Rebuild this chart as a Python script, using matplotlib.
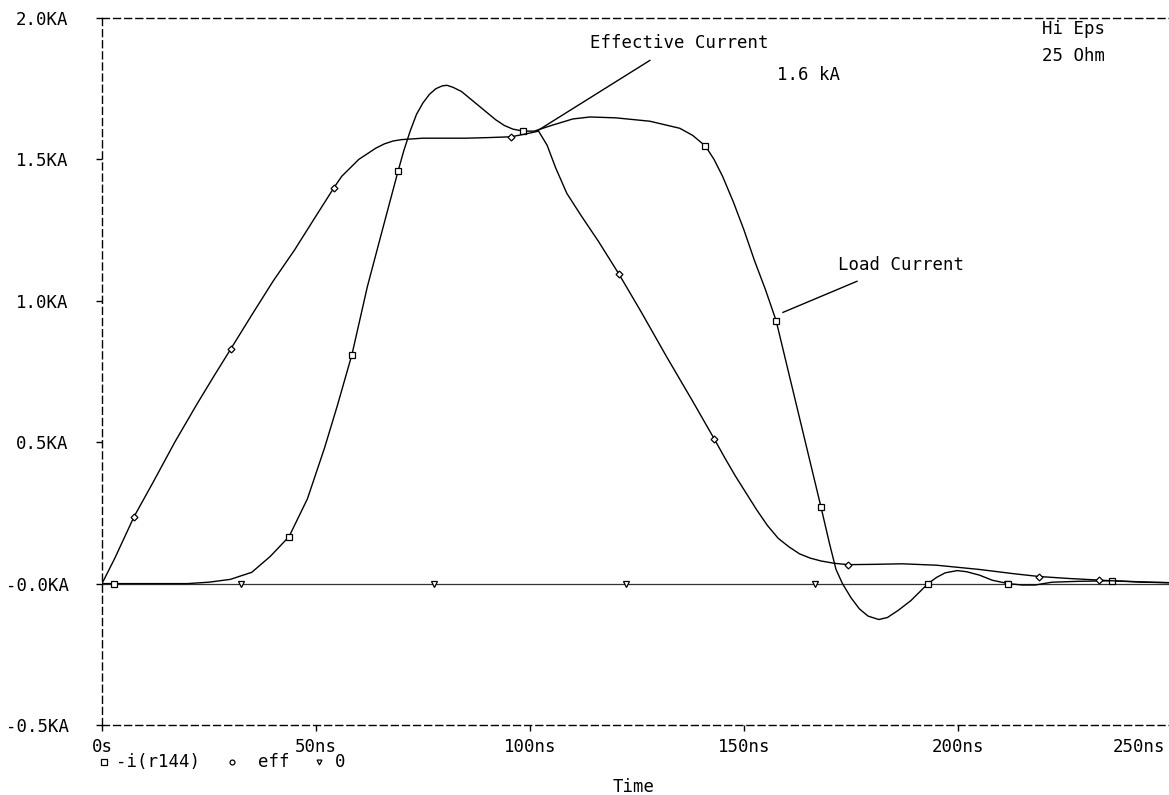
import numpy as np
import matplotlib.pyplot as plt
from matplotlib.lines import Line2D

# Load current -i(r144), time in ns, current in kA
load_t = [0, 10, 20, 25, 30, 35, 39.3, 43.7, 48, 52, 55, 58.4, 62, 65.5, 69.2,
          70.5, 72, 73.5, 75, 76.5, 78, 79.5, 80.6, 82, 84, 86, 88, 90, 92, 94,
          96, 98.4, 101, 105, 110, 114, 120, 128, 135, 138, 141, 143, 145, 147.5,
          150, 152.5, 155, 157.5, 161, 164.5, 168, 170, 171.5, 173, 175, 177,
          179, 181.5, 183.5, 186, 189, 191, 193, 195, 197, 199.8, 202, 205, 208,
          211.7, 215, 218, 222, 228, 236, 243, 250]
load_i = [0, 0, 0, 0.005, 0.015, 0.04, 0.096, 0.166, 0.3, 0.48, 0.63, 0.81, 1.05,
          1.25, 1.46, 1.53, 1.6, 1.66, 1.70, 1.73, 1.75, 1.76, 1.762, 1.755, 1.74,
          1.715, 1.69, 1.665, 1.64, 1.62, 1.607, 1.60, 1.60, 1.62, 1.643, 1.65,
          1.647, 1.635, 1.61, 1.585, 1.547, 1.50, 1.44, 1.35, 1.25, 1.14, 1.04,
          0.93, 0.71, 0.49, 0.27, 0.14, 0.05, 0, -0.05, -0.09, -0.115, -0.127,
          -0.12, -0.095, -0.06, -0.03, 0, 0.022, 0.038, 0.046, 0.042, 0.03, 0.012,
          0, -0.005, -0.005, 0.005, 0.008, 0.01, 0.005, 0.003]
load_mk_t = [2.7, 43.7, 58.4, 69.2, 98.4, 141, 157.5, 168, 193, 211.7, 236]
load_mk_i = [0, 0.166, 0.81, 1.46, 1.60, 1.547, 0.93, 0.27, 0, 0, 0.01]

# Effective current (eff)
eff_t = [0, 3, 7.5, 12, 17, 22, 26, 30.1, 35, 40, 45, 50, 54.2, 56, 58, 60, 62,
         64, 66, 68, 70, 75, 80, 85, 90, 95.6, 99, 102, 104, 106, 108.6, 112,
         116, 120.8, 126, 132, 138, 143, 145.5, 148, 150.5, 153, 155.5, 158,
         160.5, 163, 165.5, 168, 171, 174.3, 180, 187, 195, 205, 213, 219, 226,
         236, 245, 250]
eff_i = [0, 0.09, 0.237, 0.36, 0.5, 0.63, 0.73, 0.83, 0.95, 1.07, 1.18, 1.30,
         1.40, 1.44, 1.47, 1.50, 1.52, 1.54, 1.555, 1.565, 1.57, 1.575, 1.575,
         1.575, 1.577, 1.58, 1.59, 1.60, 1.55, 1.47, 1.38, 1.30, 1.21, 1.094,
         0.96, 0.80, 0.645, 0.513, 0.445, 0.38, 0.32, 0.26, 0.205, 0.16, 0.13,
         0.105, 0.09, 0.08, 0.072, 0.067, 0.068, 0.07, 0.065, 0.05, 0.035, 0.025,
         0.018, 0.01, 0.005, 0.003]
eff_mk_t = [7.5, 30.1, 54.2, 95.6, 120.8, 143, 174.3, 219, 233]
eff_mk_i = [0.237, 0.83, 1.40, 1.58, 1.094, 0.513, 0.067, 0.025, 0.011]

# Zero trace
zero_t = [0, 250]
zero_i = [0, 0]
zero_mk_t = [32.5, 77.5, 122.5, 166.5, 211.5]
zero_mk_i = [0, 0, 0, 0, 0]

x_ticks = [0, 50, 100, 150, 200]
x_labels = ["0s", "50ns", "100ns", "150ns", "200ns"]
y_ticks = [-0.5, 0.0, 0.5, 1.0, 1.5, 2.0]
y_labels = ["-0.5KA", "-0.0KA", "0.5KA", "1.0KA", "1.5KA", "2.0KA"]

font = ["DejaVu Sans Mono", "Liberation Mono"]
plt.rcParams["font.family"] = font
fs = 12.5

fig = plt.figure(figsize=(11.69, 7.95), dpi=100)
ax = fig.add_axes([102 / 1169, 1 - 725 / 795, 1070 / 1169, 707 / 795])

ax.plot(zero_t, zero_i, color="#333333", lw=0.9)
ax.plot(zero_mk_t, zero_mk_i, ls="none", marker="v", ms=4.5, mfc="white",
        mec="black", mew=0.9)
ax.plot(load_t, load_i, color="black", lw=1.0)
ax.plot(load_mk_t, load_mk_i, ls="none", marker="s", ms=4.5, mfc="white",
        mec="black", mew=0.9)
ax.plot(eff_t, eff_i, color="black", lw=1.0)
ax.plot(eff_mk_t, eff_mk_i, ls="none", marker="D", ms=3.5, mfc="white",
        mec="black", mew=0.9)

ax.set_xlim(0, 250)
ax.set_ylim(-0.5, 2.0)
ax.set_xticks(x_ticks)
ax.set_xticklabels(x_labels, fontsize=fs)
ax.set_yticks(y_ticks)
ax.set_yticklabels(y_labels, fontsize=fs)
ax.tick_params(axis="both", direction="out", length=4, width=1)
ax.tick_params(axis="y", pad=20)
ax.tick_params(axis="x", pad=5)

for side in ["top", "bottom", "left"]:
    ax.spines[side].set_linestyle((0, (5, 3)))
    ax.spines[side].set_linewidth(1.0)
ax.spines["right"].set_visible(False)

# last x label, right-aligned at the picture edge
fig.text(1165 / 1169, 1 - 747 / 795, "250ns", ha="right", va="center", fontsize=fs)

# legend row under the axis
leg_y = 1 - 762 / 795
fig.add_artist(Line2D([104 / 1169], [leg_y], marker="s", ms=4, mfc="white",
                      mec="black", mew=0.9, ls="none"))
fig.text(116 / 1169, leg_y, "-i(r144)", ha="left", va="center", fontsize=fs)
fig.add_artist(Line2D([232 / 1169], [leg_y], marker="o", ms=3.5, mfc="white",
                      mec="black", mew=0.9, ls="none"))
fig.text(258 / 1169, leg_y, "eff", ha="left", va="center", fontsize=fs)
fig.add_artist(Line2D([319 / 1169], [leg_y], marker="v", ms=3.5, mfc="white",
                      mec="black", mew=0.9, ls="none"))
fig.text(335 / 1169, leg_y, "0", ha="left", va="center", fontsize=fs)
fig.text(634 / 1169, 1 - 787 / 795, "Time", ha="center", va="center", fontsize=fs)

# annotations
ax.text(114, 1.91, "Effective Current", ha="left", va="center", fontsize=fs)
ax.plot([128, 101.6], [1.85, 1.60], color="black", lw=1.0)
ax.text(157.7, 1.80, "1.6 kA", ha="left", va="center", fontsize=fs)
ax.text(219.6, 1.96, "Hi Eps", ha="left", va="center", fontsize=fs)
ax.text(219.6, 1.865, "25 Ohm", ha="left", va="center", fontsize=fs)
ax.text(172, 1.126, "Load Current", ha="left", va="center", fontsize=fs)
ax.plot([176.4, 159.1], [1.069, 0.959], color="black", lw=1.0)

fig.savefig("out.png", dpi=100)
